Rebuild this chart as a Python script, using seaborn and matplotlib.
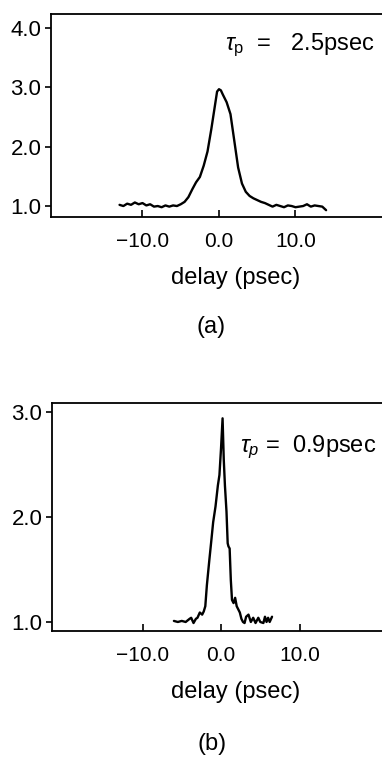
"""Autocorrelation traces, two pulse widths (a) and (b)."""
import numpy as np
import matplotlib
matplotlib.use("Agg")
import matplotlib.pyplot as plt
import seaborn as sns
import pandas as pd

# (a) tau_p = 2.5 psec
delay_a = [-13.0, -12.5, -12.0, -11.5, -11.0, -10.5, -10.0, -9.5, -9.0, -8.5,
           -8.0, -7.5, -7.0, -6.5, -6.0, -5.5, -5.0, -4.5, -4.0, -3.5,
           -3.0, -2.5, -2.0, -1.5, -1.0, -0.5, -0.25, 0.0, 0.25, 0.5,
           1.0, 1.5, 2.0, 2.5, 3.0, 3.5, 4.0, 4.5, 5.0, 5.5,
           6.0, 6.5, 7.0, 7.5, 8.0, 8.5, 9.0, 9.5, 10.0, 10.5,
           11.0, 11.5, 12.0, 12.5, 13.0, 13.5, 14.0]
signal_a = [1.02, 1.00, 1.04, 1.02, 1.06, 1.03, 1.05, 1.01, 1.03, 0.99,
            1.00, 0.98, 1.01, 0.99, 1.01, 1.00, 1.03, 1.07, 1.15, 1.28,
            1.40, 1.49, 1.68, 1.92, 2.30, 2.72, 2.93, 2.97, 2.95, 2.88,
            2.75, 2.55, 2.10, 1.65, 1.38, 1.24, 1.17, 1.13, 1.10, 1.07,
            1.05, 1.02, 0.99, 1.02, 1.00, 0.98, 1.01, 1.00, 0.98, 0.99,
            1.00, 1.03, 0.99, 1.01, 1.00, 0.99, 0.93]

# (b) tau_p = 0.9 psec
delay_b = [-6.0, -5.5, -5.0, -4.5, -4.0, -3.8, -3.5, -3.2, -3.0, -2.7,
           -2.4, -2.2, -2.0, -1.8, -1.5, -1.2, -1.0, -0.7, -0.4, -0.2,
           0.0, 0.2, 0.35, 0.5, 0.7, 0.85, 0.95, 1.1, 1.25, 1.4,
           1.6, 1.8, 2.0, 2.2, 2.4, 2.6, 2.8, 3.0, 3.2, 3.5,
           3.8, 4.1, 4.4, 4.75, 5.0, 5.4, 5.6, 5.8, 6.0, 6.2, 6.5]
signal_b = [1.01, 1.00, 1.01, 1.00, 1.03, 1.04, 0.99, 1.03, 1.04, 1.09,
            1.07, 1.10, 1.15, 1.35, 1.58, 1.80, 1.95, 2.10, 2.30, 2.40,
            2.65, 2.94, 2.55, 2.30, 2.05, 1.75, 1.72, 1.70, 1.40, 1.21,
            1.18, 1.23, 1.15, 1.12, 1.09, 1.03, 1.00, 0.99, 1.05, 1.07,
            1.00, 1.04, 0.99, 1.04, 1.00, 0.99, 1.05, 1.00, 1.04, 1.00, 1.05]

xticks = [-10.0, 0.0, 10.0]
yticks_a = [1.0, 2.0, 3.0, 4.0]
yticks_b = [1.0, 2.0, 3.0]

sns.set_style("white")
plt.rcParams["font.family"] = ["Liberation Sans", "DejaVu Sans"]
plt.rcParams["mathtext.fontset"] = "custom"
plt.rcParams["mathtext.rm"] = "Liberation Sans"
plt.rcParams["mathtext.it"] = "Liberation Sans:italic"
for key in ["text.color", "axes.labelcolor", "xtick.color", "ytick.color"]:
    plt.rcParams[key] = "black"

W, H = 382, 759
fig = plt.figure(figsize=(W / 100, H / 100), dpi=100)


def px_axes(left, right, top, bottom):
    return fig.add_axes([left / W, 1 - bottom / H, (right - left) / W, (bottom - top) / H])


def style(ax, yticks):
    ax.set_xticks(xticks)
    ax.set_xticklabels([f"{v:.1f}".replace("-", "\u2212") for v in xticks])
    ax.set_yticks(yticks)
    ax.set_yticklabels([f"{v:.1f}" for v in yticks])
    ax.tick_params(axis="x", bottom=True, direction="in", length=5, width=1.2, pad=11, labelsize=15)
    ax.tick_params(axis="y", left=True, direction="out", length=4, width=1.2, pad=3, labelsize=16)
    for s in ax.spines.values():
        s.set_linewidth(1.3)
        s.set_color("black")
    ax.spines["right"].set_visible(False)
    ax.set_xlabel("delay (psec)", fontsize=17, labelpad=11)
    ax.set_ylabel("")


df_a = pd.DataFrame({"delay": delay_a, "signal": signal_a})
df_b = pd.DataFrame({"delay": delay_b, "signal": signal_b})

ax1 = px_axes(51, 420, 14, 217)
sns.lineplot(data=df_a, x="delay", y="signal", ax=ax1, color="black", lw=1.7, estimator=None)
ax1.set_xlim(-21.96, (420 - 219) / 7.65)
ax1.set_ylim(0.815, 4.238)
style(ax1, yticks_a)
ax1.text((225 - 51) / 369, 0.847, r"$\tau_{\rm p}$  =   2.5psec", transform=ax1.transAxes,
         fontsize=17, va="center", ha="left")

ax2 = px_axes(52, 420, 403, 631)
sns.lineplot(data=df_b, x="delay", y="signal", ax=ax2, color="black", lw=1.7, estimator=None)
ax2.set_xlim(-21.53, (420 - 221) / 7.85)
ax2.set_ylim(0.914, 3.086)
style(ax2, yticks_b)
ax2.text((240 - 52) / 368, 0.807, r"$\tau_p$ =  0.9psec", transform=ax2.transAxes,
         fontsize=17, va="center", ha="left")

fig.text(211 / W, 1 - 327 / H, "(a)", fontsize=17, ha="center", va="center")
fig.text(212 / W, 1 - 744 / H, "(b)", fontsize=17, ha="center", va="center")

fig.savefig("out.png", dpi=100)
